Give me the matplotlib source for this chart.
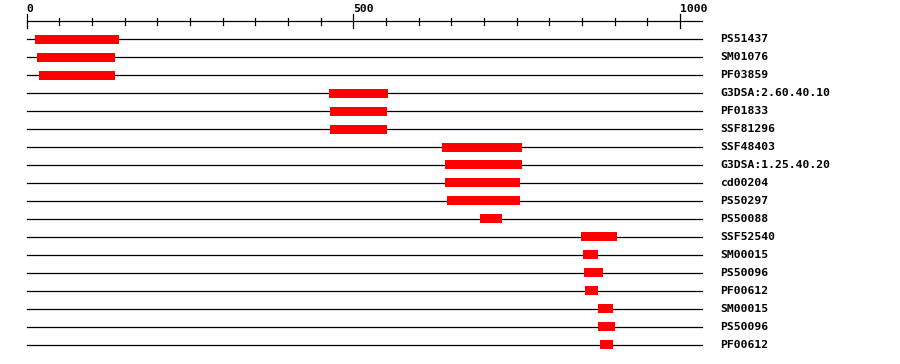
import matplotlib
matplotlib.use("Agg")
import matplotlib.pyplot as plt

protein_length = 1033
labels = ["PS51437", "SM01076", "PF03859", "G3DSA:2.60.40.10", "PF01833", "SSF81296",
          "SSF48403", "G3DSA:1.25.40.20", "cd00204", "PS50297", "PS50088", "SSF52540",
          "SM00015", "PS50096", "PF00612", "SM00015", "PS50096", "PF00612"]
starts = [13, 16, 19, 463, 465, 465, 636, 640, 640, 643, 694, 848, 852, 853, 855, 875, 875, 878]
ends = [142, 135, 135, 553, 552, 552, 758, 758, 755, 755, 727, 904, 875, 882, 875, 898, 901, 898]
tick_labels = ["0", "500", "1000"]

W, H = 900, 364
fig = plt.figure(figsize=(W / 100, H / 100), dpi=100)
ax = fig.add_axes([0, 0, 1, 1])
px_per_unit = 0.6535
x0_px = 26.5
ax.set_xlim(-x0_px / px_per_unit, (W - x0_px) / px_per_unit)
row0_px, row_px = 39.0, 18.0
ax.set_ylim((H - row0_px) / row_px, -row0_px / row_px)
ax.axis("off")

font = dict(family="DejaVu Sans Mono", fontweight="bold", fontsize=8.2)

# ruler
ruler_y = (21.3 - row0_px) / row_px
ax.plot([0, protein_length], [ruler_y, ruler_y], color="black", lw=0.9)
for t in range(0, 1001, 50):
    if t % 500 == 0:
        y1, y2 = (14 - row0_px) / row_px, (28.3 - row0_px) / row_px
    else:
        y1, y2 = (18.3 - row0_px) / row_px, (25 - row0_px) / row_px
    ax.plot([t, t], [y1, y2], color="black", lw=0.9)
for lab in tick_labels:
    ax.text(int(lab), (12.5 - row0_px) / row_px, lab, ha="left", va="baseline", **font)

# rows
for i, (lab, s, e) in enumerate(zip(labels, starts, ends)):
    ax.plot([0, protein_length], [i, i], color="black", lw=0.9, zorder=1)
    ax.barh(i, e - s, left=s, height=0.5, color="#ff0000", zorder=2)
    ax.text((720 - x0_px) / px_per_unit, i, lab, ha="left", va="center", **font)

fig.savefig("out.png", dpi=100)
